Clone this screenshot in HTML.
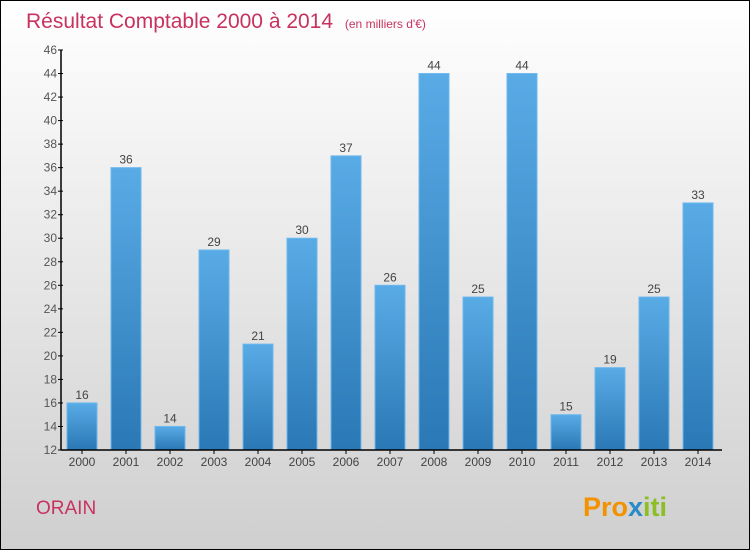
<!DOCTYPE html>
<html><head><meta charset="utf-8"><style>
body{margin:0}
#wrap{width:750px;height:550px;position:relative;box-sizing:border-box;border:1px solid #000;background:linear-gradient(#ffffff,#cfcfcf);font-family:"Liberation Sans",sans-serif;overflow:hidden}
</style></head><body>
<div id="wrap">
<svg id="c" width="750" height="550" style="position:absolute;left:-1px;top:-1px">
<defs><linearGradient id="g" x1="0" y1="0" x2="0" y2="1"><stop offset="0" stop-color="#59abe6"/><stop offset="1" stop-color="#2a78b5"/></linearGradient></defs>
<text x="26" y="28" font-size="21" fill="#c8325f">Résultat Comptable 2000 à 2014 <tspan font-size="12" dx="6">(en milliers d'€)</tspan></text>
<text x="36" y="514" font-size="19" fill="#c8325f">ORAIN</text>
<text x="583" y="516" font-size="27" font-weight="bold" fill="#f39200">Pro<tspan fill="#2a8ac8">x</tspan><tspan fill="#8cbf26">iti</tspan></text>
</svg>
</div>
<script>
const categories=["2000","2001","2002","2003","2004","2005","2006","2007","2008","2009","2010","2011","2012","2013","2014"];
const values=[16,36,14,29,21,30,37,26,44,25,44,15,19,25,33];
const yTicks=[12,14,16,18,20,22,24,26,28,30,32,34,36,38,40,42,44,46];
const svg=document.getElementById('c');const NS='http://www.w3.org/2000/svg';
const x0=60,slot=44,yMin=12,yMax=46,yTop=50,yBot=450;
const y=v=>yBot-(v-yMin)/(yMax-yMin)*(yBot-yTop);
function mk(t,a){const e=document.createElementNS(NS,t);for(const k in a)e.setAttribute(k,a[k]);svg.appendChild(e);return e;}
categories.forEach((c,i)=>{
 const cx=x0+slot*i+22;
 const r=mk('rect',{x:cx-15,y:y(values[i]),width:30,height:yBot-y(values[i]),fill:'url(#g)',stroke:'#6bb8ee','stroke-width':1});
 
 
 const t=mk('text',{x:cx,y:y(values[i])-4,'text-anchor':'middle','font-size':12,fill:'#444'});t.textContent=values[i];
 
 
 const l=mk('text',{x:cx,y:466,'text-anchor':'middle','font-size':12,fill:'#444'});l.textContent=c;
 
 
 const tk=mk('line',{x1:cx,x2:cx,y1:yBot,y2:yBot+4,stroke:'#000'});
 
 
});
yTicks.forEach(v=>{
 const tk=mk('line',{x1:58,x2:63,y1:y(v),y2:y(v),stroke:'#000'});
 
 
 const t=mk('text',{x:57,y:y(v)+4,'text-anchor':'end','font-size':12,fill:'#555'});t.textContent=v;
 
 
});
const ya=mk('line',{x1:61,x2:61,y1:yTop,y2:yBot,stroke:'#000','stroke-width':1.5});


const xa=mk('line',{x1:61,x2:722,y1:yBot,y2:yBot,stroke:'#000','stroke-width':1.5});


</script>
</body></html>
